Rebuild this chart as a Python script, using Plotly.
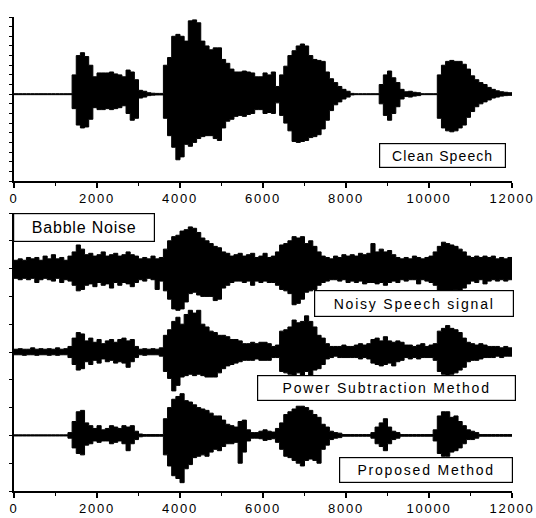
import plotly.graph_objects as go

# ---------------- data (envelopes sampled every 100 samples) ----------------
sample_index = list(range(0, 12001, 100))

clean_upper = ([0.05] * 14 + [2.0, 4.0, 4.3, 3.9, 3.0, 1.8] +
               [2.2, 2.2, 2.2, 2.3, 2.1, 2.0, 1.8, 2.5, 2.3, 1.5] +
               [0.4, 0.3, 0.15, 0.1, 0.08, 0.08, 3.0, 3.8, 6.0, 6.2] +
               [6.0, 5.5, 7.6, 7.7, 7.4, 5.5, 5.0, 4.6, 4.8, 4.8] +
               [3.6, 3.2, 2.6, 2.3, 2.3, 2.4, 2.3, 2.2, 1.8, 1.8] +
               [2.2, 2.0, 2.3, 0.8, 2.0, 2.9, 4.0, 4.5, 5.0, 5.2] +
               [5.0, 4.0, 3.6, 3.5, 3.4, 2.3, 1.6, 1.2, 0.8, 0.5] +
               [0.3, 0.08, 0.05, 0.05, 0.05, 0.05, 0.05, 0.05, 1.0, 2.0] +
               [2.4, 1.7, 1.2, 0.5, 0.25, 0.3, 0.2, 0.15, 0.05, 0.05] +
               [0.05, 0.05, 2.0, 3.0, 3.4, 3.5, 3.4, 3.4, 3.1, 2.6] +
               [1.9, 1.5, 1.2, 1.0, 0.7, 0.5, 0.35, 0.25, 0.2, 0.15] +
               [0.1])
clean_lower = ([-0.05] * 14 + [-1.5, -3.2, -3.5, -3.4, -2.6, -1.4] +
               [-1.6, -1.6, -1.5, -1.6, -1.5, -1.4, -1.2, -2.0, -2.7, -2.5] +
               [-0.4, -0.3, -0.15, -0.1, -0.08, -0.08, -2.5, -4.3, -5.5, -6.8] +
               [-6.5, -5.2, -5.4, -5.0, -4.6, -4.4, -4.3, -4.3, -4.6, -4.8] +
               [-3.5, -2.8, -2.6, -2.3, -2.2, -2.3, -2.1, -2.0, -1.6, -1.6] +
               [-2.0, -1.9, -2.0, -0.9, -2.2, -3.0, -3.8, -4.9, -5.0, -4.9] +
               [-4.8, -4.5, -4.4, -4.2, -3.6, -2.7, -1.7, -1.1, -0.8, -0.5] +
               [-0.3, -0.08, -0.05, -0.05, -0.05, -0.05, -0.05, -0.05, -1.0, -2.2] +
               [-2.7, -2.0, -1.3, -0.5, -0.25, -0.3, -0.2, -0.15, -0.05, -0.05] +
               [-0.05, -0.05, -2.5, -3.5, -3.8, -3.9, -3.8, -3.5, -3.2, -2.4] +
               [-1.8, -1.3, -1.0, -0.8, -0.6, -0.4, -0.3, -0.2, -0.15, -0.12] +
               [-0.1])

noisy_upper = ([0.3, 0.35, 0.3, 0.4, 0.35, 0.4, 0.3, 0.45, 0.35, 0.5] +
               [0.35, 0.4, 0.3, 0.45, 0.6, 0.85, 0.7, 0.5, 0.55, 0.45] +
               [0.5, 0.6, 0.45, 0.5, 0.55, 0.45, 0.5, 0.6, 0.5, 0.45] +
               [0.35, 0.4, 0.35, 0.45, 0.35, 0.4, 0.7, 1.0, 1.15, 1.2] +
               [1.35, 1.4, 1.5, 1.45, 1.3, 1.1, 1.0, 0.9, 0.8, 0.75] +
               [0.6, 0.55, 0.45, 0.5, 0.55, 0.45, 0.5, 0.55, 0.4, 0.45] +
               [0.55, 0.4, 0.45, 0.6, 0.85, 0.9, 1.0, 1.15, 1.1, 1.15] +
               [0.9, 1.0, 0.8, 0.6, 0.45, 0.4, 0.35, 0.45, 0.4, 0.5] +
               [0.45, 0.5, 0.45, 0.55, 0.5, 0.55, 0.9, 0.6, 0.7, 0.6] +
               [0.65, 0.5, 0.4, 0.35, 0.4, 0.35, 0.45, 0.4, 0.35, 0.4] +
               [0.45, 0.6, 0.8, 0.95, 0.9, 0.85, 0.8, 0.7, 0.6, 0.45] +
               [0.4, 0.45, 0.4, 0.45, 0.4, 0.45, 0.35, 0.4, 0.35, 0.4] +
               [0.35])
noisy_lower = ([-0.35, -0.4, -0.35, -0.4, -0.35, -0.5, -0.4, -0.35, -0.4, -0.45] +
               [-0.35, -0.5, -0.4, -0.45, -0.6, -0.8, -0.75, -0.6, -0.55, -0.65] +
               [-0.5, -0.6, -0.55, -0.7, -0.5, -0.6, -0.5, -0.55, -0.65, -0.5] +
               [-0.4, -0.45, -0.35, -0.4, -0.75, -0.45, -0.8, -1.1, -1.45, -1.5] +
               [-1.45, -1.2, -0.9, -0.85, -0.95, -1.0, -1.0, -1.0, -1.15, -1.1] +
               [-0.7, -0.6, -0.5, -0.45, -0.45, -0.5, -0.45, -0.6, -0.45, -0.5] +
               [-0.45, -0.5, -0.5, -0.6, -0.75, -0.8, -0.9, -1.3, -1.25, -1.1] +
               [-0.85, -0.8, -0.75, -0.6, -0.5, -0.45, -0.4, -0.4, -0.45, -0.4] +
               [-0.5, -0.45, -0.5, -0.45, -0.55, -0.5, -0.5, -0.55, -0.5, -0.6] +
               [-0.5, -0.45, -0.5, -0.4, -0.45, -0.4, -0.4, -0.55, -0.4, -0.45] +
               [-0.5, -0.6, -0.8, -1.05, -0.85, -0.8, -0.75, -0.8, -0.7, -0.55] +
               [-0.45, -0.5, -0.4, -0.55, -0.45, -0.4, -0.45, -0.4, -0.45, -0.4] +
               [-0.35])

power_upper = ([0.1, 0.12, 0.1, 0.1, 0.15, 0.1, 0.12, 0.1, 0.12, 0.1] +
               [0.15, 0.1, 0.12, 0.2, 0.5, 0.7, 0.65, 0.4, 0.5, 0.35] +
               [0.45, 0.3, 0.4, 0.45, 0.35, 0.45, 0.5, 0.4, 0.45, 0.2] +
               [0.1, 0.12, 0.1, 0.12, 0.1, 0.15, 0.6, 0.8, 1.1, 1.25] +
               [1.0, 1.35, 1.5, 1.4, 1.5, 1.0, 0.9, 0.75, 0.7, 0.6] +
               [0.6, 0.55, 0.45, 0.45, 0.4, 0.3, 0.3, 0.35, 0.3, 0.35] +
               [0.35, 0.3, 0.2, 0.25, 0.75, 0.8, 0.9, 1.15, 1.05, 1.1] +
               [1.3, 1.1, 0.9, 0.6, 0.5, 0.3, 0.2, 0.2, 0.2, 0.25] +
               [0.2, 0.2, 0.25, 0.3, 0.25, 0.3, 0.45, 0.5, 0.4, 0.55] +
               [0.4, 0.35, 0.4, 0.35, 0.25, 0.25, 0.2, 0.25, 0.3, 0.2] +
               [0.25, 0.3, 0.75, 0.85, 0.95, 0.85, 0.8, 0.7, 0.5, 0.35] +
               [0.3, 0.25, 0.3, 0.25, 0.2, 0.2, 0.2, 0.15, 0.2, 0.15] +
               [0.15])
power_lower = ([-0.1, -0.1, -0.12, -0.1, -0.1, -0.12, -0.1, -0.1, -0.12, -0.1] +
               [-0.12, -0.1, -0.1, -0.2, -0.45, -0.65, -0.6, -0.35, -0.45, -0.3] +
               [-0.4, -0.25, -0.35, -0.3, -0.4, -0.35, -0.4, -0.55, -0.35, -0.2] +
               [-0.1, -0.12, -0.1, -0.1, -0.1, -0.15, -0.7, -0.95, -1.4, -1.2] +
               [-0.9, -0.85, -0.8, -0.85, -0.8, -0.85, -0.9, -0.9, -0.9, -0.75] +
               [-0.6, -0.5, -0.45, -0.4, -0.35, -0.3, -0.3, -0.3, -0.25, -0.3] +
               [-0.3, -0.3, -0.2, -0.2, -0.7, -0.75, -0.8, -0.85, -0.75, -0.85] +
               [-0.7, -0.85, -0.65, -0.6, -0.45, -0.25, -0.2, -0.15, -0.2, -0.2] +
               [-0.2, -0.2, -0.2, -0.25, -0.2, -0.25, -0.4, -0.45, -0.5, -0.45] +
               [-0.4, -0.5, -0.35, -0.3, -0.2, -0.25, -0.2, -0.25, -0.2, -0.2] +
               [-0.2, -0.3, -0.7, -0.8, -0.85, -0.8, -0.75, -0.65, -0.55, -0.35] +
               [-0.3, -0.3, -0.25, -0.2, -0.2, -0.2, -0.15, -0.2, -0.15, -0.15] +
               [-0.15])

proposed_upper = ([0.02] * 13 + [0.1, 0.5, 0.85, 0.9, 0.45, 0.35, 0.25] +
                  [0.35, 0.2, 0.25, 0.35, 0.3, 0.25, 0.35, 0.3, 0.35, 0.15] +
                  [0.05, 0.03, 0.03, 0.03, 0.03, 0.03, 0.6, 1.0, 1.3, 1.4] +
                  [1.5, 1.25, 1.2, 1.1, 1.0, 0.95, 0.9, 0.8, 0.7, 0.7] +
                  [0.55, 0.4, 0.35, 0.3, 0.5, 0.55, 0.2, 0.1, 0.1, 0.15] +
                  [0.2, 0.15, 0.12, 0.25, 0.45, 0.75, 0.85, 0.95, 1.05, 1.05] +
                  [1.0, 0.9, 0.75, 0.65, 0.4, 0.3, 0.15, 0.1, 0.08, 0.03] +
                  [0.03, 0.03, 0.03, 0.03, 0.03, 0.03, 0.1, 0.3, 0.45, 0.6] +
                  [0.3, 0.15, 0.1, 0.03, 0.03, 0.03, 0.03, 0.03, 0.03, 0.03] +
                  [0.03, 0.2, 0.7, 0.85, 0.85, 0.65, 0.7, 0.5, 0.35, 0.2] +
                  [0.15, 0.1] + [0.03] * 8 +
                  [0.03])
proposed_lower = ([-0.02] * 13 + [-0.1, -0.45, -0.65, -0.7, -0.35, -0.3, -0.2] +
                  [-0.25, -0.2, -0.2, -0.3, -0.25, -0.2, -0.3, -0.55, -0.3, -0.15] +
                  [-0.05, -0.03, -0.03, -0.03, -0.03, -0.03, -0.7, -1.1, -1.45, -1.55] +
                  [-1.7, -1.2, -1.05, -0.8, -0.75, -0.7, -0.75, -0.6, -0.5, -0.55] +
                  [-0.4, -0.3, -0.3, -0.25, -1.0, -0.6, -0.2, -0.1, -0.1, -0.12] +
                  [-0.18, -0.15, -0.12, -0.25, -0.5, -0.75, -0.8, -0.9, -1.0, -1.1] +
                  [-0.9, -0.85, -0.9, -1.0, -0.5, -0.35, -0.15, -0.1, -0.08, -0.03] +
                  [-0.03] * 6 + [-0.1, -0.3, -0.4, -0.55] +
                  [-0.3, -0.15, -0.1] + [-0.03] * 7 +
                  [-0.03, -0.2, -0.65, -0.75, -0.75, -0.6, -0.55, -0.45, -0.3, -0.15] +
                  [-0.15, -0.1] + [-0.03] * 8 +
                  [-0.03])

x_tick_values = [0, 2000, 4000, 6000, 8000, 10000, 12000]
x_tick_labels = ["0", "2000", "4000", "6000", "8000", "10000", "12000"]

panel_labels = ["Clean Speech", "Babble Noise", "Noisy Speech signal",
                "Power Subtraction Method", "Proposed Method"]

# ---------------- layout constants ----------------
W, H = 536, 518
ML, MR, MT, MB = 14, 24, 17, 27
PW, PH = W - ML - MR, H - MT - MB


def fx(px):
    return (px - ML) / PW


def fy(py):
    return (H - MB - py) / PH


TOP_DOMAIN = [fy(181), 1.0]
BOT_DOMAIN = [0.0, fy(213)]
NOISY_C, POWER_C, PROP_C = 8, 5, 2

fig = go.Figure()


def envelope(upper, lower, center, xa, ya):
    lo = go.Scatter(x=sample_index, y=[center + v for v in lower], mode="lines",
                    line=dict(color="black", width=1, shape="hv"),
                    xaxis=xa, yaxis=ya, hoverinfo="skip", showlegend=False)
    hi = go.Scatter(x=sample_index, y=[center + u for u in upper], mode="lines",
                    line=dict(color="black", width=1, shape="hv"),
                    fill="tonexty", fillcolor="black",
                    xaxis=xa, yaxis=ya, hoverinfo="skip", showlegend=False)
    return [lo, hi]


fig.add_traces(envelope(clean_upper, clean_lower, 0, "x2", "y2"))
fig.add_traces(envelope(noisy_upper, noisy_lower, NOISY_C, "x", "y"))
fig.add_traces(envelope(power_upper, power_lower, POWER_C, "x", "y"))
fig.add_traces(envelope(proposed_upper, proposed_lower, PROP_C, "x", "y"))

tick_font = dict(family="Arial, Liberation Sans", size=13, color="black")
spaced = ['<span style="letter-spacing:1.8px">%s</span>' % t for t in x_tick_labels]

xcommon = dict(range=[0, 12000], tickvals=x_tick_values, ticktext=spaced,
               ticks="outside", ticklen=5, tickwidth=1.5, tickcolor="black",
               minor=dict(dtick=1000, tick0=0, ticks="outside", ticklen=3,
                          tickwidth=1.2, tickcolor="black"),
               showline=True, linewidth=1.5, linecolor="black",
               showgrid=False, zeroline=False, tickfont=tick_font,
               fixedrange=True, automargin=False)
ycommon = dict(showticklabels=False, ticks="outside", ticklen=3, tickwidth=1.2,
               tickcolor="black", dtick=1, tick0=0, showline=True,
               linewidth=1.5, linecolor="black", showgrid=False,
               zeroline=False, fixedrange=True, automargin=False)

fig.update_layout(
    width=W, height=H, autosize=False,
    margin=dict(l=ML, r=MR, t=MT, b=MB, autoexpand=False),
    paper_bgcolor="white", plot_bgcolor="white",
    xaxis=dict(anchor="y", domain=[0, 1], **xcommon),
    yaxis=dict(anchor="x", domain=BOT_DOMAIN, range=[0, 10], **ycommon),
    xaxis2=dict(anchor="y2", domain=[0, 1], **xcommon),
    yaxis2=dict(anchor="x2", domain=TOP_DOMAIN, range=[-9, 8], **ycommon),
)

# label boxes: (text index, x0, x1, y0, y1, font size, letter spacing)
boxes = [
    (0, 379, 506, 143, 168, 14, 1.1),
    (1, 13, 155, 213, 242, 16, 0.8),
    (2, 314, 514, 290, 317, 14, 1.8),
    (3, 257, 516, 375, 401, 14, 1.8),
    (4, 339, 513, 457, 483, 14, 1.8),
]
for idx, x0, x1, y0, y1, fs, ls in boxes:
    fig.add_annotation(
        xref="paper", yref="paper",
        x=fx((x0 + x1) / 2), y=fy((y0 + y1) / 2),
        xanchor="center", yanchor="middle",
        text='<span style="letter-spacing:%spx">%s</span>' % (ls, panel_labels[idx]),
        showarrow=False, width=x1 - x0 - 2, height=y1 - y0 - 2,
        bgcolor="white", bordercolor="black", borderwidth=1.2, borderpad=0,
        font=dict(family="Arial, Liberation Sans", size=fs, color="black"),
        align="center", valign="middle")

post = ("document.body.style.margin='0';"
        "document.body.style.padding='0';"
        "document.body.style.overflow='hidden';"
        "var gd=document.getElementById('{plot_id}');"
        "Plotly.relayout(gd,{width:%d,height:%d});" % (W, H))

fig.write_html("out.html", config={"responsive": False, "displayModeBar": False},
               post_script=post)
